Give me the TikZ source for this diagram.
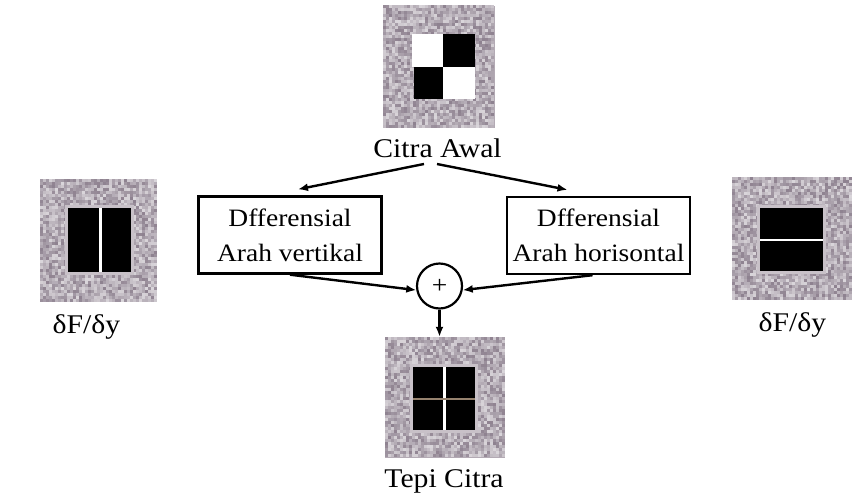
\documentclass[tikz,border=0pt]{standalone}
\usepackage{fontspec}
\setmainfont{Liberation Serif}[FakeStretch=1.1]
\usepackage{tikz}
\usetikzlibrary{arrows.meta, positioning}
\usepackage{xcolor}
\definecolor{citragray}{RGB}{128,114,130}
\definecolor{citralight}{RGB}{200,193,200}
\definecolor{garistepi}{RGB}{150,130,110}
\tikzset{%
	citra/.style={
		fill=citragray!60!white,
		inner sep=0pt,
		minimum width=118pt,
		minimum height=122pt
	},
	kotak/.style={
		draw,
		line width=2.4pt,
		minimum width=183pt,
		minimum height=77pt,
		align=center,
		font=\fontsize{25}{35}\selectfont
	},
	teks/.style={
		font=\fontsize{27}{32}\selectfont,
		inner sep=0pt,
		anchor=base
	},
	panah/.style={
		-{Latex[length=10pt,width=8pt]},
		line width=2.4pt
	},
}
% noisy grey texture of a picture: x0, y0, cells across, cells down
\newcommand{\tekstur}[4]{%
	\begin{scope}[shift={(#1,#2)}]
		\foreach \i in {1,...,#3}{
			\foreach \j in {1,...,#4}{
				\pgfmathsetmacro\tt{int(30+60*rnd)}
				\fill[citragray!\tt!white] (3*\i-3,3*\j-3) rectangle ++(3,3);
			}
		}
	\end{scope}
}

\begin{document}
\begin{tikzpicture}[x=1pt,y=-1pt]
			\pgfmathsetseed{7}
			\useasboundingbox (0,0) rectangle (859,493);

			% Citra awal (top)
			\node[citra, minimum width=112pt] (awal) at (439,66.5) {};
			\tekstur{383}{5}{37}{41}
			\fill[white] (412,34) rectangle (443,67);
			\fill[black] (443,34) rectangle (475,67);
			\fill[black] (414,67) rectangle (443,99);
			\fill[white] (443,67) rectangle (475,99);
			\node[teks] (awaltxt) at (437.5,157) {Citra Awal};

			% Turunan arah y (left)
			\node[citra, minimum width=117pt] (dy) at (98.5,240.5) {};
			\tekstur{40}{179}{39}{41}
			\fill[citralight] (65,205) rectangle (134,275);
			\fill[black] (68,208) rectangle (131,272);
			\fill[white] (99,208) rectangle (101.5,272);
			\node[teks] (dytxt) at (86.5,333) {δF/δy};

			% Turunan arah x (right)
			\node[citra, minimum width=120pt] (dx) at (792,238.5) {};
			\tekstur{732}{177}{40}{41}
			\fill[citralight] (757,205) rectangle (826,274);
			\fill[black] (760,208) rectangle (823,271);
			\fill[white] (760,238.8) rectangle (823,241.2);
			\node[teks] (dxtxt) at (792.5,331) {δF/δy};

			% Tepi citra (bottom)
			\node[citra, minimum width=120pt, minimum height=121pt] (tepi) at (445,397.5) {};
			\tekstur{385}{337}{40}{40}
			\fill[citralight] (410,364) rectangle (478,433);
			\fill[black] (413,367) rectangle (475,430);
			\fill[white] (443,367) rectangle (445.5,430);
			\fill[garistepi] (413,398) rectangle (475,400);
			\node[teks] (tepitxt) at (444,487) {Tepi Citra};

			% Kotak differensial
			\node[kotak] (kiri) at (290,235) {Dfferensial\\Arah vertikal};
			\node[kotak] (kanan) at (598.5,235.5) {Dfferensial\\Arah horisontal};

			% Penjumlahan
			\node[draw, circle, line width=2.2pt, minimum size=45pt, inner sep=0pt,
				font=\fontsize{25}{25}\selectfont] (plus) at (439.5,286) {+};

			% Draw the arrows
			\coordinate (ki0) at (424,164);
			\coordinate (ka0) at (437,164);
			\draw[panah] (ki0) -- ([xshift=8pt,yshift=6pt]kiri.north);
			\draw[panah] (ka0) -- ([xshift=-31pt,yshift=6pt]kanan.north);
			\draw[panah] (kiri.south) -- (plus.190);
			\draw[panah] ([xshift=-6pt]kanan.south) -- (plus.350);
			\draw[panah] (plus.south) -- (plus.south |- tepi.north);

		\end{tikzpicture}
\end{document}
